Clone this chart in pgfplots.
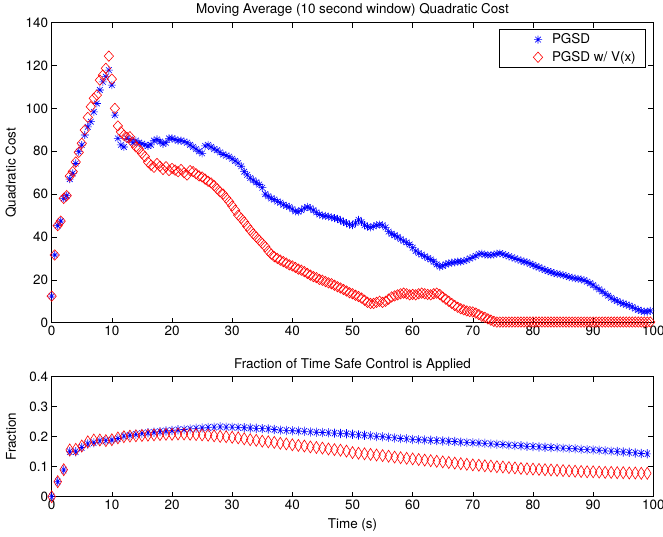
\documentclass[border=0pt]{standalone}
\usepackage{pgfplots}
\pgfplotsset{compat=1.18}
\usepackage{fontspec}
\setmainfont{TeX Gyre Heros}
\pgfdeclareplotmark{mstar}{%
 \pgfpathmoveto{\pgfqpoint{-\pgfplotmarksize}{0pt}}\pgfpathlineto{\pgfqpoint{\pgfplotmarksize}{0pt}}%
 \pgfpathmoveto{\pgfqpoint{0pt}{-\pgfplotmarksize}}\pgfpathlineto{\pgfqpoint{0pt}{\pgfplotmarksize}}%
 \pgfpathmoveto{\pgfqpoint{-.7071\pgfplotmarksize}{-.7071\pgfplotmarksize}}\pgfpathlineto{\pgfqpoint{.7071\pgfplotmarksize}{.7071\pgfplotmarksize}}%
 \pgfpathmoveto{\pgfqpoint{-.7071\pgfplotmarksize}{.7071\pgfplotmarksize}}\pgfpathlineto{\pgfqpoint{.7071\pgfplotmarksize}{-.7071\pgfplotmarksize}}%
 \pgfusepathqstroke}
\pgfplotsset{
  mlab/.style={
    scale only axis, width=601.6bp, clip=false,
    xmin=0, xmax=100, xtick={0,10,...,100},
    axis line style={line width=0.8bp},
    major tick style={line width=0.6bp, black},
    major tick length=5bp,
    tick label style={font=\fontsize{13.5}{13.5}\selectfont},
    label style={font=\fontsize{13.5}{13.5}\selectfont},
    /pgf/number format/assume math mode=true,
    title style={font=\fontsize{13.5}{13.5}\selectfont},
  },
}
\begin{document}
\begin{tikzpicture}
\path[use as bounding box] (0,0) rectangle (663bp,537bp);
\begin{axis}[mlab, height=300bp, at={(51.7bp,214.3bp)}, anchor=south west,
  ymin=0, ymax=140, ytick={0,20,...,140},
  ylabel={Quadratic Cost},
  ylabel style={at={(axis description cs:-0.0677,0.5)}, anchor=center},
  title={Moving Average (10 second window) Quadratic Cost},
  title style={at={(axis description cs:0.5,1)}, anchor=base, yshift=3.7bp},
  legend cell align=left,
  legend style={at={(1,1)}, anchor=north east, xshift=-7.3bp, yshift=-6.3bp,
    font=\fontsize{13.5}{13.5}\selectfont, draw=black, line width=0.6bp,
    inner xsep=8bp, inner ysep=1.45bp, cells={anchor=west, inner xsep=0pt, inner ysep=0pt}},
  legend image code/.code={\path[draw=none, fill=none, draw opacity=0] (-18.6bp,-8.85bp) rectangle (24bp,8.85bp); \draw[#1] plot coordinates {(12bp,0bp)};},
]
\addplot[only marks, blue, mark=mstar, mark size=4bp, mark options={line width=0.6bp}] table {
0 12.4
0.5 31.6
1 45.3
1.5 47.4
2 58
2.5 59.3
3 67
3.5 69.7
4 74.3
4.5 79.8
5 82.9
5.5 87.6
6 91.4
6.5 93.8
7 98.4
7.5 102.3
8 108.6
8.5 112.4
9 114.8
9.5 117.9
10 110.9
10.5 96.9
11 86
11.5 83
12 82
12.5 86
13 85.5
13.5 84
14 85
14.5 84
15 83.5
15.5 83
16 82.5
16.5 83
17 85
17.5 85.5
18 84.5
18.5 83.5
19 84
19.5 86
20 86
20.5 85.5
21 85
21.5 85
22 84.5
22.5 84
23 83
23.5 82
24 81
24.5 80
25 79
25.5 82.5
26 83
26.5 82
27 81
27.5 80.5
28 79.5
28.5 78.5
29 78
29.5 77.5
30 76.5
30.5 75.5
31 74.5
31.5 73
32 70.5
32.5 69
33 67.5
33.5 66.5
34 65.5
34.5 64.5
35 63
35.5 60
36 59
36.5 58
37 57.5
37.5 56.5
38 56
38.5 55
39 54.5
39.5 54
40 53
40.5 52
41 51.8
41.5 52.5
42 53.5
42.5 54
43 53.5
43.5 52.5
44 51.5
44.5 50.5
45 50
45.5 49.8
46 49.5
46.5 49.2
47 48.8
47.5 48.5
48 47.8
48.5 47
49 46.5
49.5 45.8
50 45.5
50.5 46.5
51 48
51.5 47
52 45.5
52.5 44.8
53 44.5
53.5 45
54 45.5
54.5 45.8
55 45.5
55.5 44.5
56 42.5
56.5 41.5
57 40.8
57.5 40
58 39
58.5 38.2
59 37.5
59.5 36.5
60 35
60.5 33.5
61 32.5
61.5 31.8
62 31
62.5 30.2
63 29.5
63.5 28.5
64 27.2
64.5 26.2
65 26.5
65.5 27.2
66 27.7
66.5 28
67 28.2
67.5 28.5
68 28.5
68.5 28.8
69 29.2
69.5 30
70 30.5
70.5 31.2
71 32
71.5 32.2
72 31.8
72.5 31.6
73 31.5
73.5 31.8
74 32.2
74.5 32.4
75 32
75.5 31.5
76 31
76.5 30.5
77 30
77.5 29.5
78 29
78.5 28.5
79 28.2
79.5 27.5
80 27
80.5 26.3
81 25.8
81.5 25.2
82 24.6
82.5 24.1
83 23.6
83.5 23.1
84 22.8
84.5 22.5
85 22.2
85.5 21.8
86 21.3
86.5 21
87 20.7
87.5 20.5
88 20.2
88.5 19.8
89 19.2
89.5 18.4
90 17.5
90.5 16.5
91 15.6
91.5 14.6
92 13.6
92.5 12.6
93 11.6
93.5 10.7
94 10.1
94.5 9.4
95 8.9
95.5 8.4
96 8
96.5 7.3
97 6.6
97.5 6
98 5.5
98.5 5.2
99 5.2
99.5 5.5
};
\addlegendentry{PGSD}
\addplot[only marks, red, mark=diamond, mark size=5.2bp, mark options={line width=0.6bp, xscale=1.2}] table {
0 12.4
0.5 31.6
1 45.3
1.5 47.4
2 58
2.5 59.3
3 68.4
3.5 70.5
4 75
4.5 79.5
5 83.7
5.5 89.9
6 95.8
6.5 100.8
7 104.7
7.5 106.2
8 113.2
8.5 115.5
9 118.7
9.5 124.4
10 113.7
10.5 100
11 91.8
11.5 89.1
12 87.5
12.5 86.5
13 86.8
13.5 84
14 82
14.5 81
15 79
15.5 77.5
16 75
16.5 73.5
17 72.5
17.5 74.3
18 73
18.5 71.5
19 72.8
19.5 71
20 72
20.5 71.2
21 70.5
21.5 71.5
22 70
22.5 68.9
23 71
23.5 70.5
24 69.5
24.5 68.5
25 68
25.5 67
26 66
26.5 65.2
27 64
27.5 62.5
28 61
28.5 60
29 58.2
29.5 56.5
30 54.5
30.5 52.5
31 50.2
31.5 48.7
32 47
32.5 45
33 43.2
33.5 41.5
34 40
34.5 38.5
35 37
35.5 35.5
36 33.5
36.5 32
37 30.8
37.5 30
38 29.2
38.5 28.5
39 27.8
39.5 27
40 26.5
40.5 25.8
41 25
41.5 24.5
42 23.8
42.5 23
43 22.2
43.5 21.5
44 21
44.5 20.2
45 19.8
45.5 19.2
46 18.6
46.5 18.2
47 17.5
47.5 16.8
48 16.2
48.5 15.5
49 14.8
49.5 14
50 13.5
50.5 12.8
51 12.2
51.5 11.5
52 10.5
52.5 9.5
53 9
53.5 9
54 9.5
54.5 10
55 9.5
55.5 10
56 11
56.5 12
57 12.5
57.5 13
58 13.5
58.5 13.8
59 13.5
59.5 13
60 13.2
60.5 13
61 13.5
61.5 13.8
62 13.5
62.5 13.2
63 13
63.5 13.5
64 13.8
64.5 13.2
65 12
65.5 11
66 10
66.5 9
67 8
67.5 7.2
68 6.5
68.5 6
69 5.5
69.5 5.2
70 5
70.5 4.5
71 3.8
71.5 3
72 2.5
72.5 1.8
73 1.2
73.5 0.6
74 0.3
74.5 0.3
75 0.3
75.5 0.3
76 0.3
76.5 0.3
77 0.3
77.5 0.3
78 0.3
78.5 0.3
79 0.3
79.5 0.3
80 0.3
80.5 0.3
81 0.3
81.5 0.3
82 0.3
82.5 0.3
83 0.3
83.5 0.3
84 0.3
84.5 0.3
85 0.3
85.5 0.3
86 0.3
86.5 0.3
87 0.3
87.5 0.3
88 0.3
88.5 0.3
89 0.3
89.5 0.3
90 0.3
90.5 0.3
91 0.3
91.5 0.3
92 0.3
92.5 0.3
93 0.3
93.5 0.3
94 0.3
94.5 0.3
95 0.3
95.5 0.3
96 0.3
96.5 0.3
97 0.3
97.5 0.3
98 0.3
98.5 0.3
99 0.3
99.5 0.3
};
\addlegendentry{PGSD w/ V(x)}
\end{axis}
\begin{axis}[mlab, height=120bp, at={(51.7bp,40.3bp)}, anchor=south west,
  ymin=0, ymax=0.4, ytick={0,0.1,...,0.4},
  yticklabels={0,0.1,0.2,0.3,0.4},
  ylabel={Fraction},
  ylabel style={at={(axis description cs:-0.0677,0.5)}, anchor=center},
  xlabel={Time (s)},
  xlabel style={at={(axis description cs:0.5,-0.236)}, anchor=center},
  title={Fraction of Time Safe Control is Applied},
  title style={at={(axis description cs:0.5,1)}, anchor=base, yshift=2bp},
]
\addplot[only marks, blue, mark=mstar, mark size=4bp, mark options={line width=0.6bp, xscale=0.9, yscale=1.15}] table {
0 0
1 0.05
2 0.089
3 0.15
4 0.15
5 0.164
6 0.176
7 0.18
8 0.186
9 0.187
10 0.189
11 0.194
12 0.202
13 0.205
14 0.208
15 0.211
16 0.213
17 0.215
18 0.217
19 0.219
20 0.221
21 0.223
22 0.224
23 0.226
24 0.228
25 0.229
26 0.231
27 0.232
28 0.233
29 0.232
30 0.232
31 0.231
32 0.23
33 0.229
34 0.228
35 0.227
36 0.226
37 0.224
38 0.222
39 0.221
40 0.22
41 0.219
42 0.218
43 0.216
44 0.215
45 0.214
46 0.213
47 0.212
48 0.211
49 0.21
50 0.208
51 0.206
52 0.205
53 0.203
54 0.201
55 0.2
56 0.198
57 0.196
58 0.194
59 0.193
60 0.191
61 0.19
62 0.189
63 0.188
64 0.187
65 0.186
66 0.185
67 0.184
68 0.182
69 0.181
70 0.18
71 0.179
72 0.178
73 0.176
74 0.175
75 0.174
76 0.172
77 0.171
78 0.17
79 0.168
80 0.167
81 0.166
82 0.165
83 0.164
84 0.163
85 0.162
86 0.161
87 0.16
88 0.158
89 0.157
90 0.156
91 0.155
92 0.153
93 0.152
94 0.151
95 0.149
96 0.148
97 0.146
98 0.144
99 0.143
};
\addplot[only marks, red, mark=diamond, mark size=6bp, mark options={line width=0.6bp, xscale=0.85}] table {
0 0
1 0.05
2 0.09
3 0.156
4 0.158
5 0.169
6 0.183
7 0.189
8 0.189
9 0.187
10 0.19
11 0.196
12 0.2
13 0.202
14 0.203
15 0.204
16 0.205
17 0.206
18 0.207
19 0.208
20 0.208
21 0.209
22 0.209
23 0.208
24 0.207
25 0.206
26 0.205
27 0.203
28 0.201
29 0.2
30 0.198
31 0.196
32 0.193
33 0.19
34 0.188
35 0.185
36 0.183
37 0.181
38 0.178
39 0.176
40 0.173
41 0.171
42 0.169
43 0.166
44 0.164
45 0.162
46 0.159
47 0.157
48 0.155
49 0.152
50 0.147
51 0.145
52 0.143
53 0.141
54 0.139
55 0.137
56 0.135
57 0.132
58 0.13
59 0.128
60 0.126
61 0.124
62 0.122
63 0.12
64 0.118
65 0.116
66 0.114
67 0.112
68 0.11
69 0.108
70 0.106
71 0.105
72 0.103
73 0.102
74 0.1
75 0.099
76 0.097
77 0.096
78 0.094
79 0.093
80 0.092
81 0.091
82 0.09
83 0.089
84 0.088
85 0.087
86 0.086
87 0.085
88 0.084
89 0.083
90 0.083
91 0.082
92 0.081
93 0.081
94 0.08
95 0.08
96 0.079
97 0.079
98 0.078
99 0.078
};
\end{axis}
\end{tikzpicture}
\end{document}
